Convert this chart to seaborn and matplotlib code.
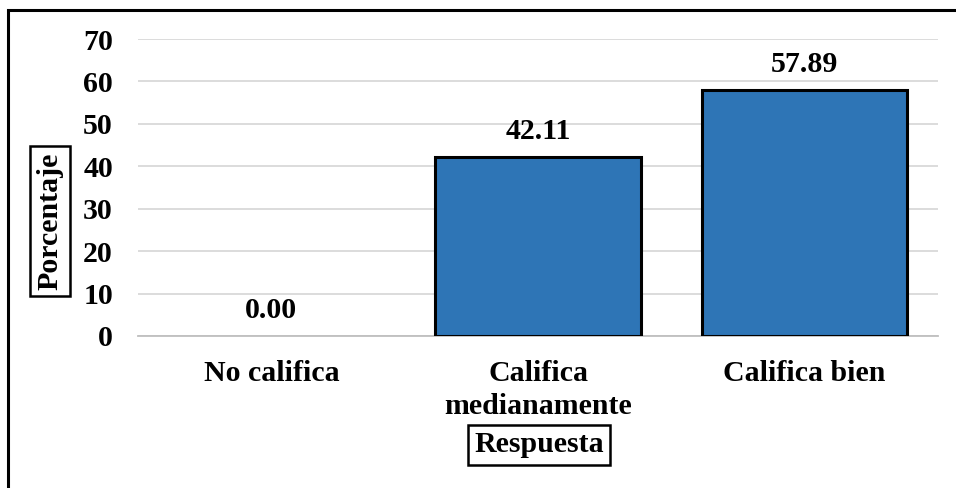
import pandas as pd
import matplotlib.pyplot as plt
import seaborn as sns
from matplotlib.patches import Rectangle

# data
categorias = ['No califica', 'Califica\nmedianamente', 'Califica bien']
porcentajes = [0.00, 42.11, 57.89]
yticks = [0, 10, 20, 30, 40, 50, 60, 70]

df = pd.DataFrame({'Respuesta': categorias, 'Porcentaje': porcentajes})

sns.set_style("white")
plt.rcParams['font.family'] = ['Liberation Serif', 'DejaVu Serif']
plt.rcParams['font.weight'] = 'bold'
plt.rcParams['text.color'] = 'black'
plt.rcParams['xtick.color'] = 'black'
plt.rcParams['ytick.color'] = 'black'

FS = 21.5

fig = plt.figure(figsize=(9.56, 4.88), dpi=100)
ax = fig.add_axes([138 / 956, 152 / 488, 800 / 956, 297 / 488])

sns.barplot(data=df, x='Respuesta', y='Porcentaje', color='#2E75B6',
            saturation=1, width=0.77, edgecolor='black', linewidth=2.2, ax=ax, zorder=3)
# no outline on an empty bar
for p in ax.patches:
    if p.get_height() == 0:
        p.set_linewidth(0)

ax.set_ylim(0, 70)
ax.set_yticks(yticks)
ax.set_yticklabels([str(t) for t in yticks], fontsize=FS, fontweight='bold')
ax.set_xticks(range(len(categorias)))
ax.set_xticklabels(categorias, fontsize=FS, fontweight='bold', linespacing=1.3)
ax.tick_params(axis='y', length=0, pad=18)
ax.tick_params(axis='x', length=0, pad=17)

# gridlines
ax.yaxis.grid(True, color='#d9d9d9', linewidth=1.3, zorder=0)
ax.set_axisbelow(True)
for s in ['top', 'right', 'left']:
    ax.spines[s].set_visible(False)
ax.spines['bottom'].set_color('#bfbfbf')
ax.spines['bottom'].set_linewidth(1.3)

# value labels
for i, v in enumerate(porcentajes):
    ax.annotate('{:.2f}'.format(v), (i, v), xytext=(0, 9), textcoords='offset points',
                ha='center', va='bottom', fontsize=FS, fontweight='bold')

# boxed axis titles
box = dict(boxstyle='square,pad=0.22', facecolor='white', edgecolor='black', linewidth=1.8)
ax.set_xlabel('')
ax.set_ylabel('')
fig.text(539 / 956, 1 - 445 / 488, 'Respuesta', ha='center', va='center',
         fontsize=FS, fontweight='bold', bbox=box)
fig.text(50 / 956, 1 - 221 / 488, 'Porcentaje', ha='center', va='center', rotation=90,
         fontsize=FS, fontweight='bold', bbox=box)

# outer frame (only left and top edges visible in the crop)
fig.patches.append(Rectangle((8 / 956, -0.1), 1.2, 1 - 10 / 488 + 0.1, transform=fig.transFigure,
                             fill=False, edgecolor='black', linewidth=2.2, clip_on=False))

fig.savefig('out.png', dpi=100)
